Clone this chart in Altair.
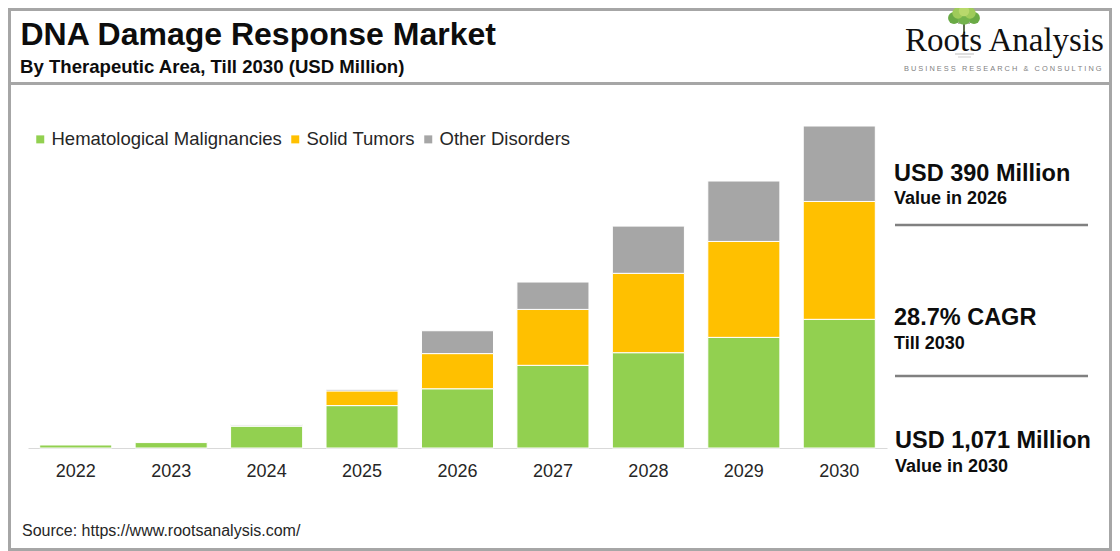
import altair as alt
import pandas as pd

# ---------------- data ----------------
years = ["2022", "2023", "2024", "2025", "2026", "2027", "2028", "2029", "2030"]
series = ["Hematological Malignancies", "Solid Tumors", "Other Disorders"]
colors = ["#92d050", "#ffc000", "#a6a6a6"]
hema = [10, 18, 73, 141, 197, 275, 317, 368, 428]
solid = [0, 0, 1, 49, 117, 186, 264, 319, 392]
other = [0, 0, 4, 5, 76, 91, 157, 201, 251]

rows = []
for i, y in enumerate(years):
    for k, (name, vals) in enumerate(zip(series, [hema, solid, other])):
        rows.append({"Year": y, "Series": name, "Value": vals[i], "ord": k})
df = pd.DataFrame(rows)

# ---------------- layout ----------------
W, H = 1104, 543
FONT = "Liberation Sans, Arial, sans-serif"
base_y = 440
top_y = 118
FRAME = "#a6a6a6"

blank = alt.Data(values=[{}])


def text(t, x, y, size, bold=False, color="#0d0d0d", font=FONT, align="left", baseline="alphabetic"):
    return alt.Chart(blank).mark_text(
        text=t, font=font, fontSize=size, fontWeight="bold" if bold else "normal",
        color=color, align=align, baseline=baseline,
    ).encode(x=alt.value(x), y=alt.value(y))


def hrule(x1, x2, y, color, width):
    return alt.Chart(blank).mark_rule(color=color, strokeWidth=width).encode(
        x=alt.value(x1), x2=alt.value(x2), y=alt.value(y)
    )


def vrule(x, y1, y2, color, width):
    return alt.Chart(blank).mark_rule(color=color, strokeWidth=width).encode(
        x=alt.value(x), y=alt.value(y1), y2=alt.value(y2)
    )


def dot(x, y, size, color):
    return alt.Chart(blank).mark_circle(color=color, opacity=1, size=size).encode(
        x=alt.value(x), y=alt.value(y))


bars = alt.Chart(df).transform_filter("datum.Value > 0").mark_bar(
    stroke="white", strokeWidth=1
).encode(
    x=alt.X(
        "Year:N",
        sort=years,
        scale=alt.Scale(domain=years, range=[20, 879], paddingInner=0.245, paddingOuter=0.1225),
        axis=alt.Axis(
            title=None, labelAngle=0, labelFontSize=18, labelFont=FONT, labelColor="#262626",
            ticks=False, domainColor="#d9d9d9", domainWidth=1, labelPadding=14,
            offset=base_y - H, grid=False,
        ),
    ),
    y=alt.Y(
        "Value:Q", stack="zero",
        scale=alt.Scale(domain=[0, 1071], range=[base_y, top_y], nice=False, zero=True),
        axis=None,
    ),
    color=alt.Color(
        "Series:N",
        scale=alt.Scale(domain=series, range=colors),
        legend=alt.Legend(
            title=None, orient="none", legendX=23, legendY=122, direction="horizontal",
            symbolType="square", symbolSize=64, symbolStrokeWidth=0, labelFontSize=18.5,
            labelFont=FONT, labelColor="#262626", columnPadding=4, labelOffset=2, padding=0,
            labelLimit=400,
        ),
    ),
    order=alt.Order("ord:Q", sort="ascending"),
)

layers = [
    bars,
    # frame
    vrule(1.5, 0, H, FRAME, 3),
    vrule(W - 1.5, 0, H, FRAME, 3),
    hrule(0, W, 1.5, FRAME, 3),
    hrule(0, W, H - 1.5, FRAME, 3),
    # header separator
    hrule(0, W, 75.5, FRAME, 3),
    text("DNA Damage Response Market", 12.5, 37, 32, bold=True),
    text("By Therapeutic Area, Till 2030 (USD Million)", 12, 65, 18.6, bold=True),
    # logo: tree
    vrule(956, 11, 25, "#5e6b4c", 2),
    hrule(950, 962, 15, "#5e6b4c", 1),
    hrule(947, 966, 46, "#bdbdbd", 1),
    hrule(950, 963, 49, "#cfcfcf", 1),
    dot(946, 10, 140, "#6aaa45"),
    dot(966, 10, 140, "#6aaa45"),
    dot(956, 10, 180, "#74b34c"),
    dot(950, 5, 130, "#9fcb5a"),
    dot(962, 5, 130, "#9fcb5a"),
    dot(956, 3, 110, "#b8d86c"),
    text("Roots Analysis", 897, 42.5, 33, color="#111111", font="Liberation Serif, Times New Roman, serif"),
    text("B\u00a0U\u00a0S\u00a0I\u00a0N\u00a0E\u00a0S\u00a0S\u00a0\u00a0\u00a0R\u00a0E\u00a0S\u00a0E\u00a0A\u00a0R\u00a0C\u00a0H"
         "\u00a0\u00a0\u00a0&\u00a0\u00a0\u00a0C\u00a0O\u00a0N\u00a0S\u00a0U\u00a0L\u00a0T\u00a0I\u00a0N\u00a0G",
         896, 61, 7.4, color="#7f7f7f", baseline="middle"),
    # right annotations
    text("USD 390 Million", 886, 172.7, 23.5, bold=True),
    text("Value in 2026", 886, 196, 18, bold=True),
    hrule(887, 1080, 217, "#808080", 2.5),
    text("28.7% CAGR", 886, 317, 23.5, bold=True),
    text("Till 2030", 886, 341, 18, bold=True),
    hrule(887, 1080, 368, "#808080", 2.5),
    text("USD 1,071 Million", 887, 440, 23.5, bold=True),
    text("Value in 2030", 887, 464, 18, bold=True),
    # source
    text("Source: https://www.rootsanalysis.com/", 14, 528, 16, color="#262626"),
]

chart = alt.layer(*layers).properties(
    width=W, height=H,
    autosize=alt.AutoSizeParams(type="none"),
    padding=0,
).configure_view(
    strokeWidth=0
).configure(background="white")

chart.save("out.html", embed_options={"renderer": "svg", "actions": False})
